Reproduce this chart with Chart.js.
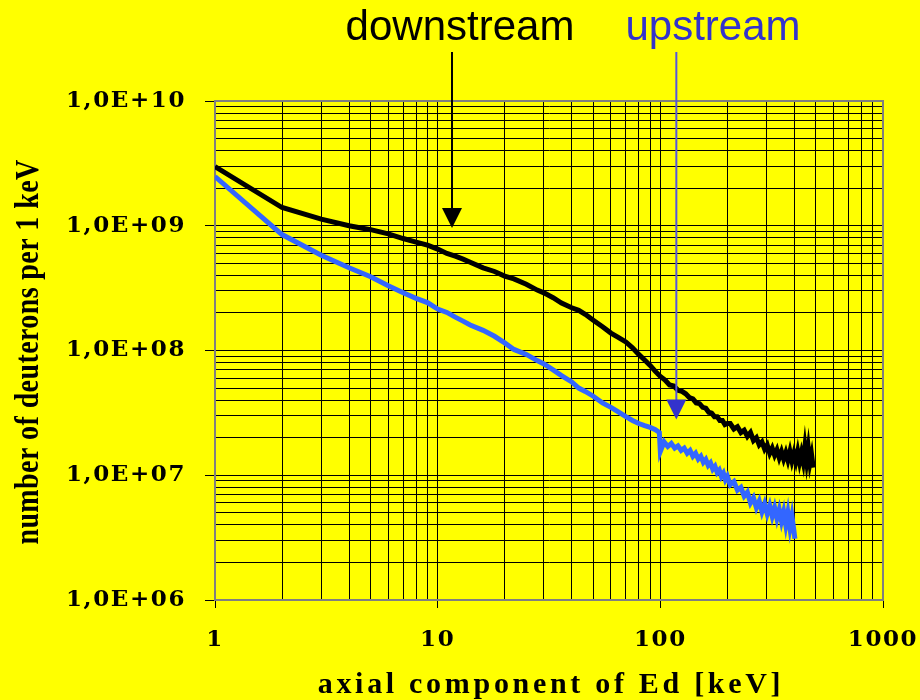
<!DOCTYPE html>
<html>
<head>
<meta charset="utf-8">
<script src="https://cdn.jsdelivr.net/npm/chart.js@4/dist/chart.umd.min.js"></script>
<style>
  html, body { margin: 0; padding: 0; background: #ffff00; }
  #wrap { width: 920px; height: 700px; position: relative; }
</style>
</head>
<body>
<div id="wrap"><canvas id="chart" width="920" height="700"></canvas></div>
<script>
// downstream spectrum (black)
const downEnergy = [1, 2, 3, 4, 5, 6, 7, 8, 9, 10, 11, 12, 13, 14,
  16, 18, 20, 22, 25, 28, 30, 33, 36, 40, 43, 46, 50, 55, 60, 65, 70, 75, 80, 85, 90, 95, 100,
  105, 110, 115, 120, 125, 130, 135, 140, 145, 150, 155, 160, 165, 170, 175, 180, 185, 190, 195, 200,
  206, 214, 222, 230, 238, 246, 254, 262, 270, 278, 286, 294, 302, 310, 318, 326, 334, 342,
  350, 358, 366, 374, 382, 390, 398, 406, 414, 422, 430, 438, 446, 454, 462, 470, 478, 486];
const downCounts = [2.98e9, 1.40e9, 1.13e9, 1.0e9, 9.3e8, 8.6e8, 7.9e8, 7.4e8, 7.0e8, 6.5e8, 6.0e8, 5.7e8, 5.4e8, 5.1e8,
  4.6e8, 4.3e8, 3.95e8, 3.75e8, 3.4e8, 3.05e8, 2.9e8, 2.65e8, 2.4e8, 2.2e8, 2.1e8, 1.95e8, 1.75e8, 1.55e8, 1.38e8, 1.27e8, 1.17e8, 1.05e8, 9.3e7, 8.4e7, 7.6e7, 6.8e7, 6.2e7,
  5.8e7, 5.3e7, 5.2e7, 4.8e7, 4.7e7, 4.5e7, 4.2e7, 4.1e7, 3.8e7, 3.75e7, 3.5e7, 3.45e7, 3.2e7, 3.15e7, 2.95e7, 2.95e7, 2.75e7, 2.75e7, 2.55e7, 2.6e7,
  2.6e7, 2.35e7, 2.45e7, 2.2e7, 2.3e7, 2.05e7, 2.2e7, 1.9e7, 2.0e7, 1.75e7, 1.85e7, 1.62e7, 1.75e7, 1.5e7, 1.65e7, 1.45e7, 1.6e7, 1.38e7,
  1.55e7, 1.35e7, 1.52e7, 1.32e7, 1.55e7, 1.3e7, 1.5e7, 1.3e7, 1.55e7, 1.28e7, 1.5e7, 1.28e7, 1.7e7, 1.3e7, 1.65e7, 1.25e7, 1.45e7, 1.15e7];

// upstream spectrum (blue)
const upEnergy = [1, 2, 3, 4, 5, 6, 7, 8, 9, 10, 11, 12, 13, 14,
  16, 18, 20, 22, 25, 28, 30, 33, 36, 40, 43, 46, 50, 55, 60, 65, 70, 75, 80, 85, 90, 95, 99,
  100, 104, 108, 112, 116, 120, 124, 128, 132, 136, 140, 144, 148, 152, 156, 160, 164, 168, 172, 176, 180, 184, 188, 192, 196, 200,
  206, 214, 222, 230, 238, 246, 254, 262, 270, 278, 286, 294, 302, 310, 318, 326, 334, 342, 350, 358, 366, 374, 382, 390, 398, 402];
const upCounts = [2.48e9, 8.5e8, 5.8e8, 4.6e8, 3.9e8, 3.3e8, 2.9e8, 2.62e8, 2.42e8, 2.15e8, 2.02e8, 1.85e8, 1.72e8, 1.6e8,
  1.45e8, 1.3e8, 1.15e8, 1.02e8, 9.3e7, 8.3e7, 7.8e7, 7.0e7, 6.3e7, 5.6e7, 5.0e7, 4.7e7, 4.3e7, 3.8e7, 3.5e7, 3.2e7, 2.95e7, 2.75e7, 2.6e7, 2.5e7, 2.42e7, 2.32e7, 2.2e7,
  1.55e7, 1.85e7, 1.7e7, 1.8e7, 1.65e7, 1.72e7, 1.58e7, 1.65e7, 1.5e7, 1.58e7, 1.42e7, 1.5e7, 1.35e7, 1.42e7, 1.27e7, 1.34e7, 1.2e7, 1.26e7, 1.12e7, 1.18e7, 1.05e7, 1.1e7, 9.8e6, 1.04e7, 9.2e6, 9.8e6,
  8.4e6, 8.9e6, 7.6e6, 8.0e6, 6.8e6, 7.3e6, 6.0e6, 6.6e6, 5.5e6, 6.2e6, 5.1e6, 5.9e6, 4.9e6, 5.7e6, 4.7e6, 5.5e6, 4.5e6, 5.3e6, 4.3e6, 5.1e6, 4.0e6, 5.0e6, 3.8e6, 4.7e6, 3.6e6, 3.1e6];

const xMajor = [1, 10, 100, 1000];
const xLabels = ['1', '10', '100', '1000'];
const yMajor = [1e6, 1e7, 1e8, 1e9, 1e10];
const yLabels = ['1,0E+06', '1,0E+07', '1,0E+08', '1,0E+09', '1,0E+10'];

// arrows: [energy, counts at tip]
const downArrow = [11.6, 9.6e8];
const upArrow = [118, 2.8e7];

function toPoints(xs, ys) {
  return xs.map((x, i) => ({ x: x, y: ys[i] }));
}

// 1..9 per decade, like the excel grid
function decadeTicks(lo, hi) {
  const out = [];
  for (let d = lo; d < hi; d *= 10) {
    for (let k = 1; k < 10; k++) out.push(k * d);
  }
  out.push(hi);
  return out.map(v => ({ value: v }));
}

function drawArrow(ctx, x, tipY, lineCol, headCol) {
  ctx.save();
  ctx.strokeStyle = lineCol;
  ctx.lineWidth = 2;
  ctx.beginPath();
  ctx.moveTo(x, 52);
  ctx.lineTo(x, tipY - 18);
  ctx.stroke();
  ctx.fillStyle = headCol;
  ctx.beginPath();
  ctx.moveTo(x - 10, tipY - 20);
  ctx.lineTo(x + 10, tipY - 20);
  ctx.lineTo(x, tipY);
  ctx.closePath();
  ctx.fill();
  ctx.restore();
}

const notes = {
  id: 'notes',
  beforeDraw(chart) {
    // tick labels in the original are spread out a little
    chart.ctx.letterSpacing = '1.6px';
  },
  afterDatasetsDraw(chart) {
    const { ctx, chartArea: a, scales: { x, y } } = chart;
    // gray frame on top / right (left and bottom come from the axes)
    ctx.save();
    ctx.strokeStyle = '#808080';
    ctx.lineWidth = 2;
    ctx.beginPath();
    ctx.moveTo(a.left, a.top);
    ctx.lineTo(a.right, a.top);
    ctx.lineTo(a.right, a.bottom);
    ctx.stroke();
    ctx.restore();

    drawArrow(ctx, x.getPixelForValue(downArrow[0]), y.getPixelForValue(downArrow[1]), '#000000', '#000000');
    drawArrow(ctx, x.getPixelForValue(upArrow[0]), y.getPixelForValue(upArrow[1]), '#5555dd', '#3333cc');
  },
  afterDraw(chart) {
    const ctx = chart.ctx;
    ctx.save();
    ctx.letterSpacing = '0px';
    ctx.textBaseline = 'alphabetic';
    ctx.textAlign = 'center';
    ctx.font = '42px "Liberation Sans", Arial, sans-serif';
    ctx.fillStyle = '#000000';
    ctx.fillText('downstream', 460, 40);
    ctx.fillStyle = '#3333cc';
    ctx.fillText('upstream', 713, 40);

    // axis titles
    ctx.fillStyle = '#000000';
    ctx.font = 'bold 30px "Liberation Serif", "Times New Roman", serif';
    ctx.letterSpacing = '3.7px';
    ctx.fillText('axial component of Ed [keV]', 551, 693);

    ctx.translate(38, 352);
    ctx.rotate(-Math.PI / 2);
    ctx.scale(1, 1.2);
    ctx.font = 'bold 28px "Liberation Serif", "Times New Roman", serif';
    ctx.letterSpacing = '0.4px';
    ctx.fillText('number of deuterons per 1 keV', 0, 0);
    ctx.restore();
    ctx.letterSpacing = '0px';
  }
};

const tickFont = { family: '"DejaVu Serif", serif', weight: 'bold', size: 23 };

new Chart(document.getElementById('chart'), {
  type: 'line',
  data: {
    datasets: [
      {
        label: 'downstream',
        data: toPoints(downEnergy, downCounts),
        borderColor: '#000000',
        borderWidth: 5,
        pointRadius: 0,
        tension: 0
      },
      {
        label: 'upstream',
        data: toPoints(upEnergy, upCounts),
        borderColor: '#3366ff',
        borderWidth: 5,
        pointRadius: 0,
        tension: 0
      }
    ]
  },
  options: {
    responsive: false,
    animation: false,
    layout: { padding: { top: 101, right: 37, left: 0, bottom: 0 } },
    plugins: {
      legend: { display: false },
      tooltip: { enabled: false }
    },
    scales: {
      x: {
        type: 'logarithmic',
        min: 1,
        max: 1000,
        afterBuildTicks: s => { s.ticks = decadeTicks(1, 1000); },
        afterFit: s => { s.height = 100; s.paddingLeft = 0; s.paddingRight = 0; },
        ticks: {
          autoSkip: false,
          maxRotation: 0,
          padding: 18,
          color: '#000000',
          font: tickFont,
          callback: v => {
            const i = xMajor.indexOf(v);
            return i >= 0 ? xLabels[i] : '';
          }
        },
        grid: {
          color: '#000000',
          lineWidth: 1,
          tickLength: 8,
          tickColor: c => xMajor.includes(c.tick.value) ? '#000000' : 'rgba(0,0,0,0)'
        },
        border: { color: '#808080', width: 2 }
      },
      y: {
        type: 'logarithmic',
        min: 1e6,
        max: 1e10,
        afterBuildTicks: s => { s.ticks = decadeTicks(1e6, 1e10); },
        afterFit: s => { s.width = 215; s.paddingTop = 0; s.paddingBottom = 0; },
        ticks: {
          autoSkip: false,
          padding: 19,
          color: '#000000',
          font: tickFont,
          callback: v => {
            const i = yMajor.indexOf(v);
            return i >= 0 ? yLabels[i] : '';
          }
        },
        grid: {
          color: '#000000',
          lineWidth: 1,
          tickLength: 10,
          tickColor: c => yMajor.includes(c.tick.value) ? '#000000' : 'rgba(0,0,0,0)'
        },
        border: { color: '#808080', width: 2 }
      }
    }
  },
  plugins: [notes]
});
</script>
</body>
</html>
